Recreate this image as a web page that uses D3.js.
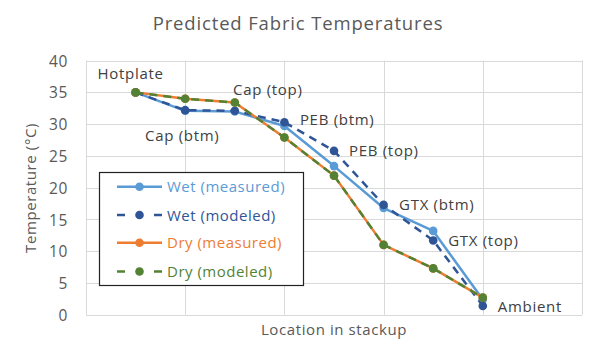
<!DOCTYPE html>
<html>
<head>
<meta charset="utf-8">
<script src="https://cdn.jsdelivr.net/npm/d3@7"></script>
<style>
  html, body { margin: 0; padding: 0; background: #fff; }
  svg { display: block; font-family: "Open Sans", sans-serif; }
</style>
</head>
<body>
<svg id="chart" width="593" height="359"></svg>
<script>
// ---- data ----
const locations = ["Hotplate", "Cap (btm)", "Cap (top)", "PEB (btm)", "PEB (top)", "GTX (btm)", "GTX (top)", "Ambient"];
const locationX = [1, 2, 3, 4, 5, 6, 7, 8];
const wetMeasured = [35.0, 32.1, 32.0, 29.7, 23.4, 16.8, 13.2, 2.4];
const wetModeled  = [35.0, 32.2, 32.1, 30.3, 25.8, 17.3, 11.7, 1.4];
const dryMeasured = [35.0, 34.0, 33.4, 27.9, 21.9, 11.0, 7.3, 2.7];
const dryModeled  = [35.0, 34.0, 33.4, 27.9, 21.9, 11.0, 7.3, 2.7];
const seriesNames = ["Wet (measured)", "Wet (modeled)", "Dry (measured)", "Dry (modeled)"];
const yTicks = [0, 5, 10, 15, 20, 25, 30, 35, 40];
const xGrid = [0, 2, 4, 6, 8, 10];

// ---- styling / layout ----
const colors = ["#5B9BD5", "#2F5597", "#ED7D31", "#548235"];
const dashes = [null, "8,6", null, "8,6"];
const labelPlacement = [ // offsets (px) from Wet (modeled) point, anchor
  {dx: -5, dy: -13, anchor: "middle"},
  {dx: -3, dy: 30.5, anchor: "middle"},
  {dx: 33, dy: -15.5, anchor: "middle"},
  {dx: 15.5, dy: 3, anchor: "start"},
  {dx: 15, dy: 5, anchor: "start"},
  {dx: 15.5, dy: 5.5, anchor: "start"},
  {dx: 15, dy: 5.5, anchor: "start"},
  {dx: 15, dy: 6.5, anchor: "start"}
];

const svg = d3.select("#chart");
const x = d3.scaleLinear().domain([0, 10]).range([86, 582]);
const y = d3.scaleLinear().domain([0, 40]).range([314.8, 60.6]);

// gridlines
const grid = svg.append("g");
grid.selectAll("line.h").data(yTicks).join("line")
  .attr("x1", x(0)).attr("x2", x(10))
  .attr("y1", d => Math.round(y(d)) + 0.5).attr("y2", d => Math.round(y(d)) + 0.5)
  .attr("stroke", "#D9D9D9").attr("stroke-width", 1);
grid.selectAll("line.v").data(xGrid).join("line")
  .attr("y1", y(0)).attr("y2", y(40))
  .attr("x1", d => Math.round(x(d)) + 0.5).attr("x2", d => Math.round(x(d)) + 0.5)
  .attr("stroke", "#D9D9D9").attr("stroke-width", 1);

// y axis tick labels
const yAxis = d3.axisLeft(y).tickValues(yTicks).tickSize(0).tickPadding(0);
const yg = svg.append("g").attr("transform", "translate(68,0)").call(yAxis);
yg.select(".domain").remove();
yg.selectAll("text").attr("fill", "#595959").style("font-size", "15.5px")
  .style("font-family", "'Open Sans', sans-serif").style("letter-spacing", "0.6px").attr("dy", "0.36em");

// title
svg.append("text").attr("x", 298).attr("y", 30).attr("text-anchor", "middle")
  .attr("fill", "#595959").style("font-size", "18.5px").style("letter-spacing", "0.85px")
  .text("Predicted Fabric Temperatures");

// axis titles
svg.append("text").attr("x", 334).attr("y", 335).attr("text-anchor", "middle")
  .attr("fill", "#595959").style("font-size", "15px").style("letter-spacing", "0.6px")
  .text("Location in stackup");
svg.append("text").attr("transform", "translate(36,188) rotate(-90)").attr("text-anchor", "middle")
  .attr("fill", "#595959").style("font-size", "15px").style("letter-spacing", "0.6px")
  .text("Temperature (°C)");

// series
const allSeries = [wetMeasured, wetModeled, dryMeasured, dryModeled];
const line = d3.line().x((d, i) => x(locationX[i])).y(d => y(d));
allSeries.forEach((vals, s) => {
  const g = svg.append("g");
  g.append("path").datum(vals).attr("d", line)
    .attr("fill", "none").attr("stroke", colors[s]).attr("stroke-width", 2.5)
    .attr("stroke-dasharray", dashes[s]).attr("stroke-linejoin", "round");
  g.selectAll("circle").data(vals).join("circle")
    .attr("cx", (d, i) => x(locationX[i])).attr("cy", d => y(d)).attr("r", 4.3)
    .attr("fill", colors[s]);
});

// data labels (attached to Wet (modeled))
svg.append("g").selectAll("text").data(locations).join("text")
  .attr("x", (d, i) => x(locationX[i]) + labelPlacement[i].dx)
  .attr("y", (d, i) => y(wetModeled[i]) + labelPlacement[i].dy)
  .attr("text-anchor", (d, i) => labelPlacement[i].anchor)
  .attr("fill", "#404040").style("font-size", "15px").style("letter-spacing", "0.7px")
  .text(d => d);

// legend
const leg = svg.append("g");
leg.append("rect").attr("x", 99.5).attr("y", 172.5).attr("width", 204).attr("height", 113)
  .attr("fill", "#fff").attr("stroke", "#222").attr("stroke-width", 1.2);
const legY = [186.7, 215, 242.7, 271.5];
seriesNames.forEach((name, s) => {
  const gy = legY[s];
  leg.append("line").attr("x1", 117).attr("x2", 162).attr("y1", gy).attr("y2", gy)
    .attr("stroke", colors[s]).attr("stroke-width", 2.5)
    .attr("stroke-dasharray", dashes[s] ? "8,29,8" : null);
  leg.append("circle").attr("cx", 139.5).attr("cy", gy).attr("r", 4.3).attr("fill", colors[s]);
  leg.append("text").attr("x", 167).attr("y", gy + 5.5).attr("fill", colors[s])
    .style("font-size", "15px").style("letter-spacing", "0.5px").text(name);
});
</script>
</body>
</html>
